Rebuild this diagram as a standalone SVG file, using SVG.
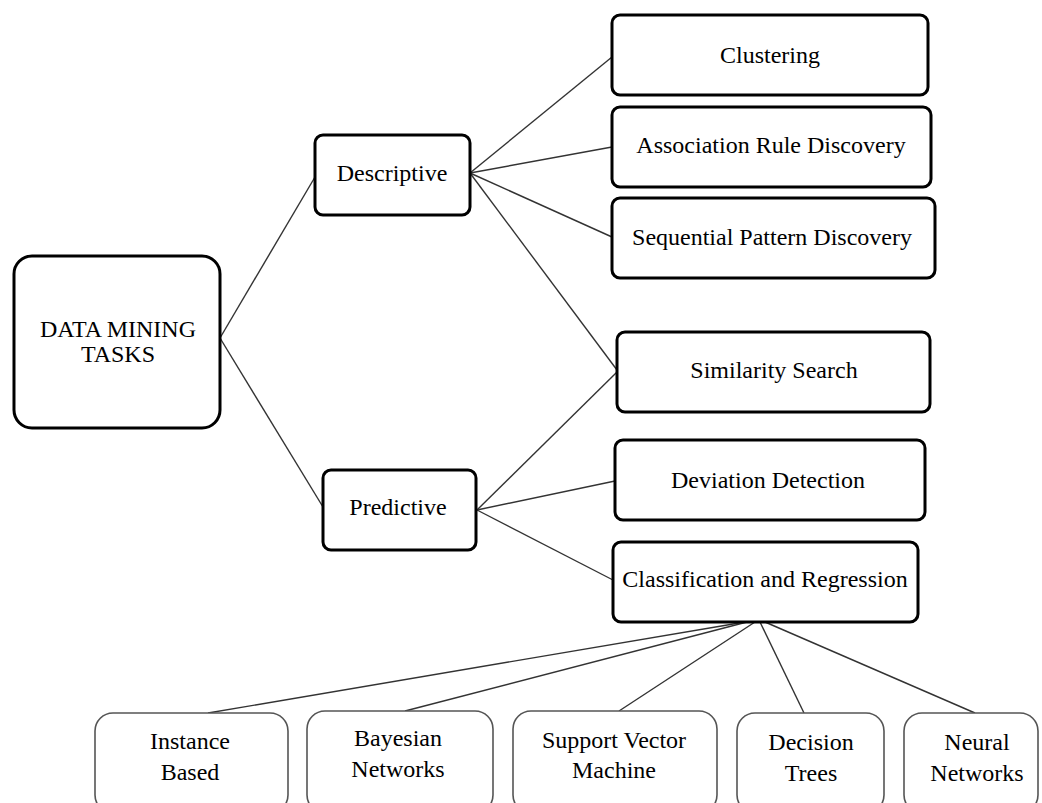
<svg xmlns="http://www.w3.org/2000/svg" width="1042" height="803" viewBox="0 0 1042 803">
<style>
.box{fill:#fff;stroke:#000;stroke-width:3}
.sub{fill:#fff;stroke:#555;stroke-width:1.6}
.t{font-family:"Liberation Serif","Times New Roman",serif;font-size:24px;fill:#000;text-anchor:middle}
.c{stroke:#333;stroke-width:1.4;fill:none}
</style>
<rect width="1042" height="803" fill="#fff"/>
<g id="connectors">
<line class="c" x1="220" y1="338" x2="315" y2="177"/>
<line class="c" x1="220" y1="338" x2="323" y2="507"/>
<line class="c" x1="470" y1="173" x2="612" y2="57"/>
<line class="c" x1="470" y1="173" x2="612" y2="147"/>
<line class="c" x1="470" y1="173" x2="612" y2="237"/>
<line class="c" x1="470" y1="173" x2="617" y2="370"/>
<line class="c" x1="477" y1="510" x2="617" y2="372"/>
<line class="c" x1="477" y1="510" x2="615" y2="481"/>
<line class="c" x1="477" y1="510" x2="613" y2="580"/>
<line class="c" x1="745" y1="622" x2="208" y2="713"/>
<line class="c" x1="747" y1="622" x2="405" y2="711"/>
<line class="c" x1="755" y1="622" x2="619" y2="711"/>
<line class="c" x1="760" y1="622" x2="804" y2="713"/>
<line class="c" x1="765" y1="622" x2="975" y2="713"/>
</g>
<g id="n-dmt"><rect class="box" x="14" y="256" width="206" height="172" rx="18"/><text class="t" x="118" y="337">DATA MINING</text><text class="t" x="118" y="362">TASKS</text></g>
<g id="n-descriptive"><rect class="box" x="315" y="135" width="155" height="80" rx="8"/><text class="t" x="392" y="181">Descriptive</text></g>
<g id="n-predictive"><rect class="box" x="323" y="470" width="153" height="80" rx="8"/><text class="t" x="398" y="515">Predictive</text></g>
<g id="n-clustering"><rect class="box" x="612" y="15" width="316" height="80" rx="8"/><text class="t" x="770" y="63">Clustering</text></g>
<g id="n-association"><rect class="box" x="612" y="107" width="319" height="80" rx="8"/><text class="t" x="771" y="153">Association Rule Discovery</text></g>
<g id="n-sequential"><rect class="box" x="612" y="198" width="323" height="80" rx="8"/><text class="t" x="772" y="245">Sequential Pattern Discovery</text></g>
<g id="n-similarity"><rect class="box" x="617" y="332" width="313" height="80" rx="8"/><text class="t" x="774" y="378">Similarity Search</text></g>
<g id="n-deviation"><rect class="box" x="615" y="440" width="310" height="80" rx="8"/><text class="t" x="768" y="488">Deviation Detection</text></g>
<g id="n-classification"><rect class="box" x="613" y="542" width="305" height="80" rx="8"/><text class="t" x="765" y="587">Classification and Regression</text></g>
<g id="n-instance"><rect class="sub" x="95" y="713" width="193" height="100" rx="18"/><text class="t" x="190" y="749">Instance</text><text class="t" x="190" y="780">Based</text></g>
<g id="n-bayesian"><rect class="sub" x="307" y="711" width="186" height="102" rx="18"/><text class="t" x="398" y="746">Bayesian</text><text class="t" x="398" y="777">Networks</text></g>
<g id="n-svm"><rect class="sub" x="513" y="711" width="204" height="102" rx="18"/><text class="t" x="614" y="748">Support Vector</text><text class="t" x="614" y="778">Machine</text></g>
<g id="n-decision"><rect class="sub" x="737" y="713" width="147" height="100" rx="18"/><text class="t" x="811" y="750">Decision</text><text class="t" x="811" y="781">Trees</text></g>
<g id="n-neural"><rect class="sub" x="904" y="713" width="134" height="100" rx="18"/><text class="t" x="977" y="750">Neural</text><text class="t" x="977" y="781">Networks</text></g>
</svg>
